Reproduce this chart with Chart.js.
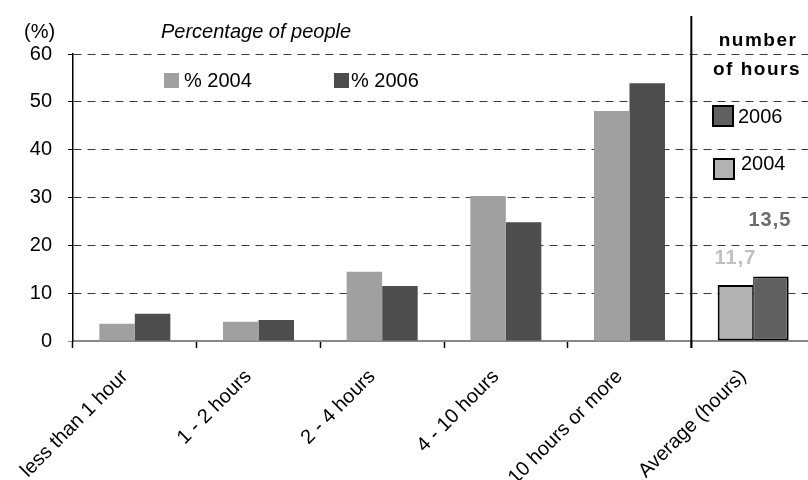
<!DOCTYPE html>
<html>
<head>
<meta charset="utf-8">
<script src="https://cdn.jsdelivr.net/npm/chart.js@4/dist/chart.umd.min.js"></script>
<style>
  html, body { margin: 0; padding: 0; background: #fff; overflow: hidden; }
  #wrap { width: 815px; height: 480px; position: relative; }
</style>
</head>
<body>
<div id="wrap"><canvas id="chart"></canvas></div>
<script>
// ===== data =====
const categories = ['less than 1 hour', '1 - 2 hours', '2 - 4 hours', '4 - 10 hours', '10 hours or more', 'Average (hours)'];
const pct2004 = [3.6, 4.0, 14.5, 30.3, 48.1];
const pct2006 = [5.7, 4.4, 11.5, 24.8, 53.9];
const avgHours2004 = 11.7;
const avgHours2006 = 13.5;
const yMin = 0, yMax = 60, yStep = 10;

const FONT = "'Liberation Sans', Arial, sans-serif";
const C2004 = '#a0a0a0', C2006 = '#4d4d4d';
const AVG2004 = '#b3b3b3', AVG2006 = '#606060';
const avgIdx = categories.length - 1;

// 평균 막대만 테두리
const avgBorder = side => ctx => ctx.dataIndex === avgIdx
  ? (side === 'l' ? { top: 2, bottom: 2, left: 2, right: 1 } : { top: 2, bottom: 2, left: 1, right: 2 })
  : 0;

// 범례/제목/구분선/값 라벨
const overlay = {
  id: 'overlay',
  afterDraw(chart) {
    const { ctx, scales: { x, y } } = chart;
    ctx.save();
    // 구분선
    const sepX = (x.getPixelForValue(avgIdx - 1) + x.getPixelForValue(avgIdx)) / 2;
    ctx.strokeStyle = '#000'; ctx.lineWidth = 2;
    ctx.beginPath(); ctx.moveTo(sepX, 16); ctx.lineTo(sepX, 348); ctx.stroke();

    ctx.fillStyle = '#000'; ctx.textBaseline = 'middle'; ctx.textAlign = 'left';
    ctx.font = `20px ${FONT}`;
    ctx.fillText('(%)', 24, 32);
    ctx.font = `italic 20px ${FONT}`;
    ctx.fillText('Percentage of people', 161, 32);

    // 왼쪽 범례
    ctx.font = `20px ${FONT}`;
    ctx.fillStyle = C2004; ctx.fillRect(164, 73, 15, 15);
    ctx.fillStyle = '#000'; ctx.fillText('% 2004', 184, 81);
    ctx.fillStyle = C2006; ctx.fillRect(334, 73, 15, 15);
    ctx.fillStyle = '#000'; ctx.fillText('% 2006', 351, 81);

    // 오른쪽 패널
    ctx.textAlign = 'center';
    ctx.font = `bold 19px ${FONT}`;
    ctx.letterSpacing = '1.5px';
    ctx.fillText('number', 758, 41);
    ctx.fillText('of hours', 757, 70);
    ctx.letterSpacing = '0px';
    ctx.textAlign = 'left';
    ctx.lineWidth = 2; ctx.strokeStyle = '#000';
    ctx.fillStyle = AVG2006; ctx.fillRect(713, 106, 20, 20); ctx.strokeRect(713, 106, 20, 20);
    ctx.fillStyle = AVG2004; ctx.fillRect(714, 159, 20, 20); ctx.strokeRect(714, 159, 20, 20);
    ctx.font = `20px ${FONT}`; ctx.fillStyle = '#000';
    ctx.fillText('2006', 738, 117);
    ctx.fillText('2004', 741, 164);

    // 값 라벨
    const b04 = chart.getDatasetMeta(0).data[avgIdx];
    const b06 = chart.getDatasetMeta(1).data[avgIdx];
    ctx.textAlign = 'center';
    ctx.font = `bold 20px ${FONT}`;
    ctx.letterSpacing = '1px';
    ctx.fillStyle = '#c0c0c0';
    ctx.fillText(String(avgHours2004).replace('.', ','), b04.x, y.getPixelForValue(avgHours2004) - 27);
    ctx.fillStyle = '#6b6b6b';
    ctx.fillText(String(avgHours2006).replace('.', ','), b06.x - 1, y.getPixelForValue(avgHours2006) - 56);
    ctx.restore();
  }
};

new Chart(document.getElementById('chart'), {
  type: 'bar',
  data: {
    labels: categories,
    datasets: [
      {
        label: '% 2004', data: [...pct2004, avgHours2004],
        backgroundColor: categories.map((c, i) => i === avgIdx ? AVG2004 : C2004),
        borderColor: '#000', borderWidth: avgBorder('l'), borderSkipped: false,
        categoryPercentage: 0.574, barPercentage: 1
      },
      {
        label: '% 2006', data: [...pct2006, avgHours2006],
        backgroundColor: categories.map((c, i) => i === avgIdx ? AVG2006 : C2006),
        borderColor: '#000', borderWidth: avgBorder('r'), borderSkipped: false,
        categoryPercentage: 0.574, barPercentage: 1
      }
    ]
  },
  options: {
    responsive: true, maintainAspectRatio: false, animation: false,
    layout: { padding: { top: 54, left: 0, right: 0, bottom: 0 } },
    plugins: { legend: { display: false }, tooltip: { enabled: false } },
    scales: {
      x: {
        afterFit: s => { s.height = 139; },
        grid: { display: true, drawOnChartArea: false, drawTicks: true, tickLength: 7, offset: true, tickColor: '#000', tickWidth: 1.5 },
        border: { display: true, color: '#888', width: 2 },
        ticks: {
          color: '#000', font: { family: FONT, size: 20 }, autoSkip: false,
          maxRotation: 45, minRotation: 45, padding: 17, labelOffset: -10
        }
      },
      y: {
        min: yMin, max: yMax,
        afterFit: s => { s.width = 73; },
        grid: {
          color: c => c.tick.value === 0 ? 'rgba(0,0,0,0)' : '#3a3a3a',
          tickColor: c => c.tick.value === 0 ? '#888' : '#000',
          tickLength: 5, lineWidth: 1, tickBorderDash: []
        },
        border: { display: true, color: '#000', width: 1.5, dash: [8, 6] },
        ticks: { stepSize: yStep, color: '#000', font: { family: FONT, size: 20 }, padding: 16 }
      }
    }
  },
  plugins: [overlay]
});
</script>
</body>
</html>
